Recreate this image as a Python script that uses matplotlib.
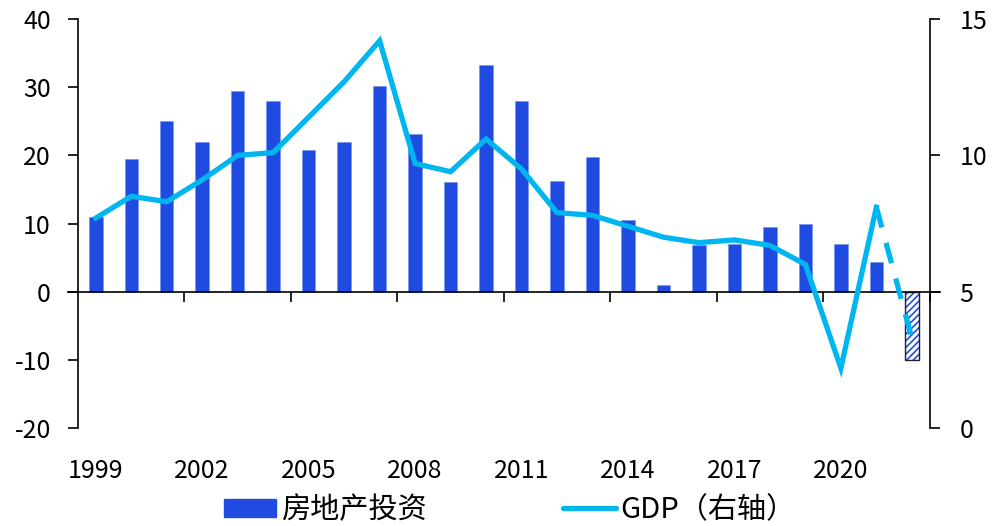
import matplotlib
matplotlib.use("Agg")
import matplotlib.pyplot as plt
from matplotlib.patches import Patch
from matplotlib.lines import Line2D
from matplotlib.ticker import FixedLocator

plt.rcParams["font.family"] = ["Noto Sans CJK SC", "DejaVu Sans"]
plt.rcParams["axes.unicode_minus"] = False
plt.rcParams["hatch.linewidth"] = 1.2

# data
years = list(range(1999, 2023))
invest = [11.0, 19.5, 25.0, 22.0, 29.5, 28.0, 20.8, 22.0, 30.2, 23.2, 16.1, 33.2,
          27.9, 16.2, 19.8, 10.5, 1.0, 6.9, 7.0, 9.5, 9.9, 7.0, 4.4, -10.0]
gdp = [7.7, 8.5, 8.3, 9.1, 10.0, 10.1, 11.4, 12.7, 14.2, 9.7, 9.4, 10.6,
       9.5, 7.9, 7.8, 7.4, 7.0, 6.8, 6.9, 6.7, 6.0, 2.2, 8.1, 3.3]
year_labels = [str(y) for y in years[::3]]

BAR = "#1f4be0"
LINE = "#00b6f0"

fig = plt.figure(figsize=(10.03, 5.26), dpi=100)
ax = fig.add_axes([0.0778, 0.186, 0.849, 0.778])
ax2 = ax.twinx()

x = list(range(len(years)))
ax.bar(x[:-1], invest[:-1], width=0.38, color=BAR, edgecolor="#6f8ff0", linewidth=0.4, zorder=2)
# last year is an estimate: hatched bar (hatch takes the edge colour, so two layers)
ax.bar(x[-1:], invest[-1:], width=0.38, color="white", edgecolor=BAR,
       hatch="/////", linewidth=0, zorder=2)
ax.bar(x[-1:], invest[-1:], width=0.38, color="none", edgecolor="#222222",
       linewidth=1.0, zorder=2)

ax2.plot(x[:-1], gdp[:-1], color=LINE, lw=3.8, solid_joinstyle="miter", zorder=3)
ax2.plot(x[-2:], gdp[-2:], color=LINE, lw=3.8, dashes=(4, 3), zorder=3)

ax.set_xlim(-0.5, len(years) - 0.5)
ax.set_ylim(-20, 40)
ax2.set_ylim(0, 15)
ax.set_yticks(range(-20, 41, 10))
ax2.set_yticks([0, 5, 10, 15])

for a in (ax, ax2):
    a.spines["top"].set_visible(False)
    a.spines["bottom"].set_visible(False)
ax.spines["right"].set_visible(False)
ax2.spines["left"].set_visible(False)
ax.spines["left"].set_linewidth(1.2)
ax2.spines["right"].set_linewidth(1.2)

ax.axhline(0, xmin=-0.012, xmax=1.012, color="black", lw=1.2, clip_on=False, zorder=4)

ax.set_xticks(x[::3])
ax.set_xticklabels(year_labels)
ax.xaxis.set_minor_locator(FixedLocator([i - 0.5 for i in x[::3]][1:] + [len(years) - 0.5]))
ax.spines["bottom"].set_position(("data", 0))
ax.tick_params(axis="x", which="major", length=0, pad=120, labelsize=18)
ax.tick_params(axis="x", which="minor", length=7.5, width=1.2, direction="out")
ax.tick_params(axis="y", length=7.5, width=1.2, pad=12, labelsize=18)
ax2.tick_params(axis="y", length=7.5, width=1.2, pad=14, labelsize=18)

handles = [Patch(facecolor=BAR, edgecolor=BAR),
           Line2D([0], [0], color=LINE, lw=3.8, solid_capstyle="round")]
fig.legend(handles, ["房地产投资", "GDP（右轴）"], loc="center", bbox_to_anchor=(0.508, 0.03),
           ncol=2, frameon=False, fontsize=21, handlelength=1.8, handleheight=0.62,
           handletextpad=0.14, columnspacing=4.7, borderaxespad=0)

fig.savefig("out.png", dpi=100)
